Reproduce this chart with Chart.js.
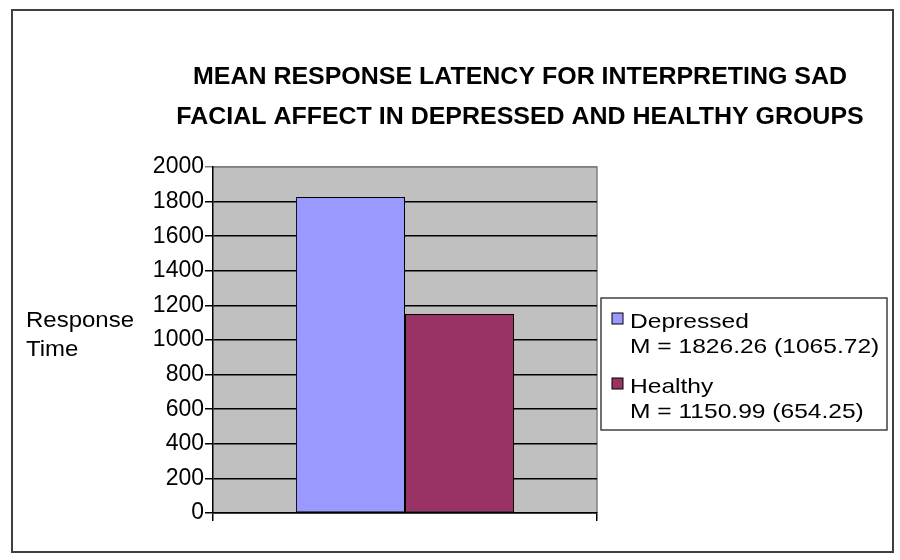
<!DOCTYPE html>
<html>
<head>
<meta charset="utf-8">
<script src="https://cdn.jsdelivr.net/npm/chart.js@4.4.1/dist/chart.umd.min.js"></script>
<style>
  html, body { margin: 0; padding: 0; background: #fff; }
  #wrap { width: 900px; height: 560px; }
</style>
</head>
<body>
<div id="wrap"><canvas id="chart" width="900" height="560"></canvas></div>
<script>
// 数据
var groups = ["Depressed", "Healthy"];
var means = [1826.26, 1150.99];
var sds = [1065.72, 654.25];
var colors = ["#9999FF", "#993366"];
var titleLines = ["MEAN RESPONSE LATENCY FOR INTERPRETING SAD", "FACIAL AFFECT IN DEPRESSED AND HEALTHY GROUPS"];
var yTitleLines = ["Response", "Time"];
var yTicks = [0, 200, 400, 600, 800, 1000, 1200, 1400, 1600, 1800, 2000];

var FONT = "'Liberation Sans', Arial, sans-serif";

// 横向拉伸的文字（原图文字偏宽）
function wideText(ctx, text, x, y, sx, align) {
  ctx.save();
  ctx.translate(x, y);
  ctx.scale(sx, 1);
  ctx.textAlign = align;
  ctx.fillText(text, 0, 0);
  ctx.restore();
}

// 外框、绘图区背景、标题、图例
var decor = {
  id: "decor",
  beforeDraw: function (chart) {
    var ctx = chart.ctx, a = chart.chartArea;
    ctx.save();
    ctx.fillStyle = "#fff";
    ctx.fillRect(0, 0, chart.width, chart.height);
    ctx.strokeStyle = "#404040";
    ctx.lineWidth = 2;
    ctx.strokeRect(12, 10, 881, 542);
    ctx.fillStyle = "#C0C0C0";
    ctx.fillRect(a.left, a.top, a.right - a.left, a.bottom - a.top);
    ctx.strokeStyle = "#808080";
    ctx.lineWidth = 1.5;
    ctx.beginPath();
    ctx.moveTo(a.left, a.top);
    ctx.lineTo(a.right, a.top);
    ctx.lineTo(a.right, a.bottom);
    ctx.stroke();
    ctx.restore();
  },
  afterDraw: function (chart) {
    var ctx = chart.ctx;
    ctx.save();
    ctx.fillStyle = "#000";
    ctx.textBaseline = "middle";
    // 标题
    ctx.font = "bold 24px " + FONT;
    titleLines.forEach(function (t, i) { wideText(ctx, t, 520, 77 + i * 40, 1.04, "center"); });
    // y轴标题
    ctx.font = "22px " + FONT;
    yTitleLines.forEach(function (t, i) { wideText(ctx, t, 26, 321 + i * 29, 1.09, "left"); });
    // 图例
    ctx.strokeStyle = "#404040";
    ctx.lineWidth = 1.5;
    ctx.strokeRect(601, 298, 286, 132);
    ctx.font = "21px " + FONT;
    groups.forEach(function (g, i) {
      var y = 322 + i * 65;
      ctx.fillStyle = colors[i];
      ctx.fillRect(612, y - 9, 11, 11);
      ctx.strokeStyle = "#000";
      ctx.lineWidth = 1;
      ctx.strokeRect(612, y - 9, 11, 11);
      ctx.fillStyle = "#000";
      wideText(ctx, g, 630, y, 1.17, "left");
      wideText(ctx, "M = " + means[i].toFixed(2) + " (" + sds[i].toFixed(2) + ")", 630, y + 25, 1.17, "left");
    });
    ctx.restore();
  }
};

new Chart(document.getElementById("chart").getContext("2d"), {
  type: "bar",
  data: {
    labels: [""],
    datasets: groups.map(function (g, i) {
      return {
        label: g,
        data: [means[i]],
        backgroundColor: colors[i],
        borderColor: "#000",
        borderWidth: 1,
        borderSkipped: false,
      };
    }),
  },
  options: {
    responsive: false,
    animation: false,
    events: [],
    layout: { padding: { left: 133, top: 167, right: 303, bottom: 32 } },
    datasets: { bar: { barPercentage: 1, categoryPercentage: 0.568 } },
    plugins: {
      legend: { display: false },
      tooltip: { enabled: false },
    },
    scales: {
      x: {
        afterFit: function (s) { s.height = 15; },
        grid: { offset: true, drawOnChartArea: false, color: "#000", lineWidth: 1.5, tickLength: 8 },
        border: { color: "#000", width: 1.5 },
        ticks: { display: false },
      },
      y: {
        min: 0,
        max: 2000,
        afterFit: function (s) { s.width = 80; },
        afterBuildTicks: function (s) { s.ticks = yTicks.map(function (v) { return { value: v }; }); },
        grid: {
          color: function (c) { return c.tick && c.tick.value === 2000 ? "#808080" : "#000"; },
          lineWidth: 1.5,
          tickLength: 8,
        },
        border: { color: "#000", width: 1.5 },
        ticks: {
          color: "#000",
          font: { family: FONT, size: 23 },
          padding: 1,
          callback: function (v) { return String(v); },
        },
      },
    },
  },
  plugins: [decor],
});
</script>
</body>
</html>
